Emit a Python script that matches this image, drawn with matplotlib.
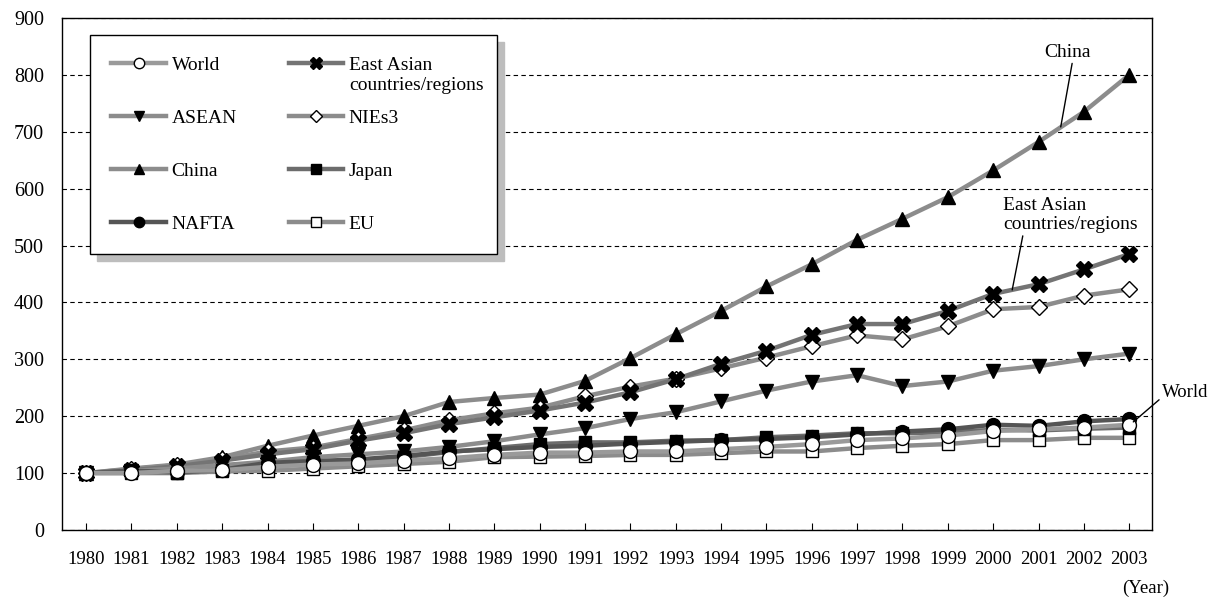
import numpy as np
import matplotlib
matplotlib.use("Agg")
import matplotlib.pyplot as plt

plt.rcParams['font.family'] = ['Liberation Serif', 'DejaVu Serif']
plt.rcParams['font.size'] = 14

years = list(range(1980, 2004))

world = [100, 100, 104, 105, 111, 115, 117, 122, 126, 132, 136, 136, 138, 138, 142, 146,
         151, 158, 161, 166, 174, 177, 180, 185]
east_asia = [100, 105, 112, 122, 133, 142, 157, 170, 186, 198, 210, 224, 242, 265, 292, 315,
             343, 362, 362, 385, 415, 432, 458, 485]
asean = [100, 104, 108, 114, 120, 128, 133, 138, 146, 156, 168, 179, 195, 207, 226, 245,
         261, 272, 253, 261, 280, 288, 300, 310]
nies3 = [100, 107, 114, 124, 138, 145, 160, 175, 193, 205, 215, 235, 252, 266, 284, 303,
         323, 342, 335, 358, 388, 392, 412, 423]
china = [100, 108, 115, 128, 148, 166, 183, 200, 225, 232, 238, 262, 302, 344, 385, 428,
         467, 510, 547, 585, 632, 682, 735, 800]
japan = [100, 103, 101, 105, 114, 120, 122, 128, 137, 144, 151, 154, 154, 157, 158, 163,
         166, 170, 170, 172, 176, 175, 178, 180]
nafta = [100, 104, 102, 106, 118, 121, 124, 130, 138, 142, 146, 148, 152, 155, 158, 160,
         163, 168, 173, 177, 185, 183, 191, 195]
eu = [100, 100, 100, 103, 104, 108, 112, 116, 120, 128, 129, 130, 132, 132, 135, 138,
      138, 144, 148, 151, 158, 158, 162, 162]

# (label, data, marker, face colour, line colour), in drawing order
series = [
    ("China", china, "^", "black", "#8c8c8c"),
    ("NIEs3", nies3, "D", "white", "#8c8c8c"),
    ("East Asian", east_asia, "X", "black", "#747474"),
    ("ASEAN", asean, "v", "black", "#8c8c8c"),
    ("EU", eu, "s", "white", "#8c8c8c"),
    ("Japan", japan, "s", "black", "#6c6c6c"),
    ("NAFTA", nafta, "o", "black", "#555555"),
    ("World", world, "o", "white", "#9a9a9a"),
]
msize = {"^": 10, "v": 10, "D": 8, "X": 11, "s": 9, "o": 10}

fig = plt.figure(figsize=(12.12, 5.99), dpi=100)
ax = fig.add_axes([0.0512, 0.1152, 0.8992, 0.8548])

handles = {}
for label, data, mk, fc, lc in series:
    h, = ax.plot(years, data, color=lc, lw=3.2, marker=mk, markersize=msize[mk],
                 markerfacecolor=fc, markeredgecolor="black", markeredgewidth=1.0,
                 label=label)
    handles[label] = h

ax.set_xlim(1979.47, 2003.5)
ax.set_ylim(0, 900)
ax.set_xticks(years)
ax.set_yticks(range(0, 1000, 100))
ax.tick_params(axis="x", direction="in", length=5, width=0.8, pad=15, labelsize=13.5)
ax.tick_params(axis="y", length=0, pad=13, labelsize=14.5)
ax.yaxis.grid(True, linestyle=(0, (4, 3)), color="black", lw=0.8)
ax.set_axisbelow(True)
for s in ax.spines.values():
    s.set_linewidth(1.0)

order = ["World", "ASEAN", "China", "NAFTA", "East Asian", "NIEs3", "Japan", "EU"]
# pad the East Asian label so the box is as wide as the two-line label
labels = [k if k != "East Asian" else k + "\u00a0" * 9 for k in order]
leg = ax.legend([handles[k] for k in order], labels, ncol=2, loc="upper left",
                bbox_to_anchor=(0.0257, 0.967), borderaxespad=0, fancybox=False,
                edgecolor="black", framealpha=1, labelspacing=1.82, handlelength=2.8,
                handletextpad=0.3, columnspacing=2.65, borderpad=1.1, markerscale=0.75,
                fontsize=14,
                shadow={"ox": 5, "oy": -5, "color": "#bdbdbd", "alpha": 1})
leg.get_frame().set_linewidth(1.0)

# second line of the East Asian label, placed under the legend text
fig.canvas.draw()
t = leg.get_texts()[4]
bb = t.get_window_extent().transformed(fig.transFigure.inverted())
fig.text(bb.x0, bb.y0 - 0.006, "countries/regions", ha="left", va="top", fontsize=14)

ax.annotate("China", xy=(2001.49, (china[21] + china[22]) / 2), xytext=(2001.65, 840),
            ha="center", va="center", fontsize=14,
            arrowprops=dict(arrowstyle="-", lw=1, color="black", relpos=(0.6, 0),
                            shrinkA=0, shrinkB=0))
ax.annotate("East Asian\ncountries/regions", xy=(2000.42, 422), xytext=(2000.22, 554),
            ha="left", va="center", fontsize=14,
            arrowprops=dict(arrowstyle="-", lw=1, color="black", relpos=(0.15, 0),
                            shrinkA=0, shrinkB=0))
ax.annotate("World", xy=(2003.09, 190), xytext=(2003.72, 242), ha="left", va="center",
            annotation_clip=False, fontsize=13.5,
            arrowprops=dict(arrowstyle="-", lw=1, color="black", relpos=(0, 0.2),
                            shrinkA=0, shrinkB=0))

fig.text(0.965, 0.018, "(Year)", ha="right", va="center", fontsize=13.5)

fig.savefig("out.png", dpi=100)
